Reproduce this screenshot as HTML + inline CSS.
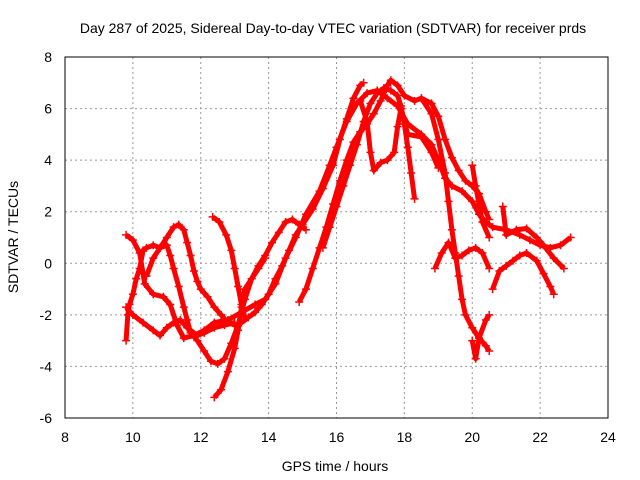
<!DOCTYPE html>
<html><head><meta charset="utf-8"><style>
body{margin:0;background:#fff}
svg{display:block;font-family:"Liberation Sans",sans-serif}
</style></head><body>
<svg id="chart" width="640" height="480">
<rect width="640" height="480" fill="#fff"/>
<g id="grid"></g>
<g id="series"></g>
<rect x="65" y="57" width="543" height="361" fill="none" stroke="#000" stroke-width="1"/>
<g id="ticks"></g>
<text x="333" y="33" text-anchor="middle" font-size="14">Day 287 of 2025, Sidereal Day-to-day VTEC variation (SDTVAR) for receiver prds</text>
<text x="335" y="471" text-anchor="middle" font-size="14">GPS time / hours</text>
<text transform="translate(18,237) rotate(-90)" text-anchor="middle" font-size="14">SDTVAR / TECUs</text>
</svg>
<script>
const xTicks=[8,10,12,14,16,18,20,22,24];
const yTicks=[-6,-4,-2,0,2,4,6,8];
const track1=[[9.8,1.1],[10.0,0.9],[10.2,0.4],[10.35,-0.8],[10.6,-1.2],[10.9,-1.3],[11.1,-1.6],[11.3,-2.4],[11.5,-2.9],[11.8,-2.8],[12.1,-2.6],[12.4,-2.3],[12.8,-2.2],[13.2,-1.9],[13.6,-1.6],[13.9,-1.4],[14.2,-0.8],[14.5,0.2],[14.8,1.0],[15.1,1.9],[15.5,2.8],[15.8,3.8],[16.0,4.5],[16.3,5.5],[16.6,6.2],[16.9,6.6],[17.2,6.7],[17.5,6.4],[17.8,6.1],[18.1,5.4],[18.5,5.0],[18.8,4.6],[19.0,4.0],[19.2,3.3],[19.4,3.0],[19.7,2.8],[20.0,2.4],[20.2,1.9],[20.4,1.6],[20.6,1.4],[21.0,1.3],[21.4,1.1],[21.7,0.9],[22.0,0.7],[22.3,0.6],[22.6,0.7],[22.9,1.0]];
const track2=[[9.8,-3.0],[9.85,-2.0],[9.9,-1.6],[10.0,-1.2],[10.1,-0.6],[10.2,-0.2],[10.3,0.5],[10.4,0.6],[10.6,0.7],[10.8,0.6],[11.0,1.0],[11.2,1.4],[11.35,1.5],[11.5,1.3],[11.6,0.8],[11.7,0.3],[11.8,-0.3],[11.9,-0.7],[12.0,-1.0],[12.2,-1.3],[12.4,-1.7],[12.6,-2.0],[12.8,-2.3],[13.0,-2.4],[13.2,-2.3],[13.4,-2.1],[13.6,-1.9],[13.8,-1.6],[14.0,-1.2],[14.2,-0.6],[14.4,-0.1],[14.6,0.5],[14.8,1.1],[15.0,1.5],[15.3,2.1],[15.6,2.9],[15.9,3.8],[16.1,4.8],[16.3,5.6],[16.5,6.4],[16.7,6.9],[16.8,7.0]];
const track3=[[9.8,-1.7],[10.0,-2.0],[10.3,-2.3],[10.6,-2.6],[10.8,-2.8],[11.0,-2.5],[11.2,-2.3],[11.4,-2.2],[11.6,-2.5],[11.9,-2.8],[12.1,-2.7],[12.4,-2.5],[12.7,-2.4],[13.0,-2.3]];
const track4=[[10.4,-0.5],[10.6,0.2],[10.8,0.6],[11.0,0.7],[11.1,0.3],[11.2,-0.2],[11.35,-0.9],[11.5,-1.7],[11.6,-2.2],[11.7,-2.7],[11.9,-3.0],[12.1,-3.4],[12.3,-3.8],[12.5,-3.9],[12.7,-3.7],[12.9,-3.1],[13.1,-2.4],[13.3,-1.4],[13.5,-0.6],[13.7,-0.1],[13.9,0.3],[14.1,0.8],[14.3,1.2],[14.5,1.6],[14.7,1.7],[14.9,1.5],[15.1,1.3]];
const track5=[[12.4,-5.2],[12.6,-4.9],[12.8,-4.2],[13.0,-3.3],[13.1,-2.6],[13.2,-1.7],[13.3,-1.0],[13.5,-0.6],[13.7,-0.2],[13.9,0.2]];
const track6=[[12.35,1.8],[12.55,1.6],[12.75,1.1],[12.9,0.5],[13.0,-0.2],[13.1,-0.9],[13.2,-1.6],[13.3,-2.1]];
const track7=[[14.9,-1.5],[15.1,-1.0],[15.3,-0.2],[15.5,0.6],[15.7,1.4],[15.9,2.3],[16.1,3.2],[16.3,4.0],[16.5,4.7],[16.7,5.1],[16.9,5.4],[17.1,5.8],[17.3,6.3],[17.5,6.9],[17.6,7.1],[17.8,6.9],[18.0,6.5],[18.3,6.3],[18.5,6.4],[18.8,6.2],[19.0,5.7],[19.2,4.8],[19.4,4.1],[19.6,3.6],[19.8,3.2],[20.0,3.0],[20.2,2.7],[20.4,2.0],[20.5,1.7]];
const track8=[[15.6,0.6],[15.8,1.4],[16.0,2.2],[16.2,3.0],[16.4,3.8],[16.6,4.6],[16.8,5.5],[17.0,6.2],[17.2,6.6],[17.4,6.8],[17.6,6.7],[17.8,6.5],[17.9,6.1],[18.0,5.4],[18.1,4.5],[18.2,3.5],[18.3,2.5]];
const track9=[[16.7,6.3],[16.9,5.5],[17.0,4.3],[17.1,3.6],[17.3,3.9],[17.5,4.0],[17.7,4.3],[17.8,5.3],[17.9,6.0],[18.1,5.0],[18.5,4.9],[18.8,4.3],[19.0,3.7]];
const track10=[[18.5,6.4],[18.8,5.8],[19.0,4.8],[19.2,3.5],[19.3,2.4],[19.4,1.3],[19.5,0.4],[19.6,-0.5],[19.7,-1.4],[19.8,-2.0],[20.0,-2.5],[20.2,-2.9],[20.4,-3.2],[20.5,-3.4]];
const track11=[[18.9,-0.2],[19.1,0.4],[19.3,0.8],[19.5,0.2],[19.7,0.3],[19.9,0.5],[20.1,0.6],[20.3,0.4],[20.5,-0.2]];
const track12=[[20.0,3.8],[20.1,3.0],[20.2,2.3],[20.3,1.6],[20.5,1.0]];
const track13=[[20.0,-3.0],[20.1,-3.7],[20.2,-2.9],[20.4,-2.2],[20.5,-2.0]];
const track14=[[20.6,-1.0],[20.8,-0.3],[21.0,-0.1],[21.2,0.1],[21.4,0.3],[21.6,0.4],[21.9,0.1],[22.1,-0.4],[22.3,-0.9],[22.4,-1.2]];
const track15=[[20.9,2.2],[21.0,1.1],[21.3,1.3],[21.6,1.35],[21.9,1.0],[22.1,0.7],[22.4,0.2],[22.7,-0.2]];
const tracks=[track1,track2,track3,track4,track5,track6,track7,track8,track9,track10,track11,track12,track13,track14,track15];
const NS="http://www.w3.org/2000/svg";
function xs(h){return 65+(h-8)*(543/16);}
function ys(v){return 57+(8-v)*(361/14);}
const grid=document.getElementById('grid'),ticks=document.getElementById('ticks'),ser=document.getElementById('series');
xTicks.forEach(t=>{
 const x=xs(t);
 if(t>8&&t<24){const l=document.createElementNS(NS,'line');
 l.setAttribute('x1',x);l.setAttribute('x2',x);l.setAttribute('y1',57);l.setAttribute('y2',418);
 l.setAttribute('stroke','#999');l.setAttribute('stroke-dasharray','2,3');
 
 
 grid.appendChild(l);}
 const tx=document.createElementNS(NS,'text');
 tx.setAttribute('x',x);tx.setAttribute('y',442);tx.setAttribute('text-anchor','middle');tx.setAttribute('font-size','14');
 tx.textContent=t;
 
 
 ticks.appendChild(tx);
});
yTicks.forEach(t=>{
 const y=ys(t);
 if(t>-6&&t<8){const l=document.createElementNS(NS,'line');
 l.setAttribute('x1',65);l.setAttribute('x2',608);l.setAttribute('y1',y);l.setAttribute('y2',y);
 l.setAttribute('stroke','#999');l.setAttribute('stroke-dasharray','2,3');
 
 
 grid.appendChild(l);}
 const tx=document.createElementNS(NS,'text');
 tx.setAttribute('x',52);tx.setAttribute('y',y+5);tx.setAttribute('text-anchor','end');tx.setAttribute('font-size','14');
 tx.textContent=t;
 
 
 ticks.appendChild(tx);
});
tracks.forEach((tr,i)=>{
 const g=document.createElementNS(NS,'g');
 
 
 const p=document.createElementNS(NS,'polyline');
 p.setAttribute('points',tr.map(d=>xs(d[0])+','+ys(d[1])).join(' '));
 p.setAttribute('fill','none');p.setAttribute('stroke','#f00');p.setAttribute('stroke-width','5');p.setAttribute('stroke-linejoin','round');
 g.appendChild(p);
 tr.forEach(d=>{
  const m=document.createElementNS(NS,'path');
  const x=xs(d[0]),y=ys(d[1]);
  m.setAttribute('d',`M${x-4},${y}H${x+4}M${x},${y-4}V${y+4}`);
  m.setAttribute('stroke','#f00');m.setAttribute('stroke-width','1.5');
  
  
  g.appendChild(m);
 });
 ser.appendChild(g);
});
</script>
</body></html>
